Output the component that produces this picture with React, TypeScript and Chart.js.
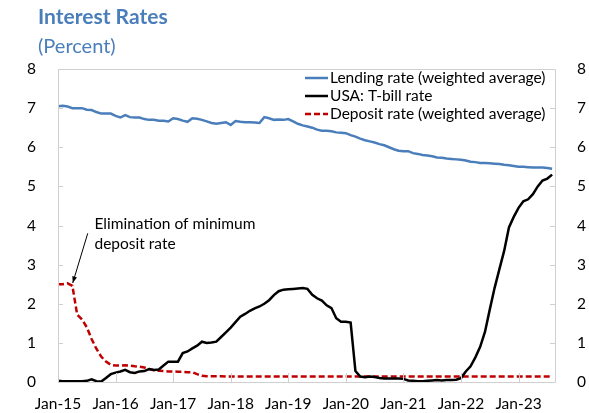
import React, { useEffect, useRef } from "react";
import { Chart, registerables } from "chart.js";

Chart.register(...registerables);

const titleText = "Interest Rates";
const subtitleText = "(Percent)";
const yearLabels = ["Jan-15", "Jan-16", "Jan-17", "Jan-18", "Jan-19", "Jan-20", "Jan-21", "Jan-22", "Jan-23"];
const seriesNames = ["Lending rate (weighted average)", "USA: T-bill rate", "Deposit rate (weighted average)"];
const annotationLines = ["Elimination of minimum", "deposit rate"];

// Monthly, Jan-15 .. Aug-23
const lending = [
  7.05, 7.06, 7.04, 7.0, 7.0, 7.0, 6.96, 6.95, 6.9, 6.86, 6.86, 6.86,
  6.8, 6.76, 6.82, 6.77, 6.76, 6.76, 6.72, 6.7, 6.7, 6.68, 6.68, 6.66,
  6.74, 6.72, 6.68, 6.65, 6.74, 6.73, 6.7, 6.66, 6.62, 6.6, 6.62, 6.64,
  6.57, 6.67, 6.65, 6.64, 6.64, 6.63, 6.62, 6.77, 6.74, 6.7, 6.71, 6.7,
  6.72, 6.66, 6.6, 6.56, 6.53, 6.5, 6.45, 6.42, 6.42, 6.41, 6.38, 6.37,
  6.36, 6.31, 6.27, 6.22, 6.18, 6.15, 6.12, 6.08, 6.05, 6.0, 5.95, 5.91,
  5.9, 5.9, 5.85, 5.83, 5.8, 5.79, 5.77, 5.74, 5.73, 5.71, 5.7, 5.69,
  5.68, 5.66, 5.63, 5.62, 5.6, 5.6, 5.59, 5.58, 5.57, 5.55, 5.54, 5.52,
  5.5, 5.5, 5.49, 5.48, 5.48, 5.48, 5.47, 5.45,
];

const tbill = [
  0.03, 0.02, 0.02, 0.02, 0.02, 0.02, 0.03, 0.07, 0.02, 0.01, 0.1, 0.2,
  0.24, 0.27, 0.31, 0.25, 0.23, 0.27, 0.28, 0.33, 0.31, 0.32, 0.42, 0.52,
  0.52, 0.52, 0.74, 0.78, 0.86, 0.93, 1.03, 1.0, 1.01, 1.03, 1.15, 1.27,
  1.39, 1.53, 1.67, 1.74, 1.82, 1.88, 1.93, 2.0, 2.09, 2.22, 2.32, 2.36,
  2.37, 2.38, 2.39, 2.4, 2.38, 2.23, 2.14, 2.08, 1.96, 1.89, 1.63, 1.54,
  1.54, 1.52, 0.28, 0.14, 0.12, 0.14, 0.13, 0.1, 0.09, 0.09, 0.09, 0.09,
  0.08, 0.04, 0.03, 0.02, 0.02, 0.03, 0.04, 0.05, 0.04, 0.05, 0.05, 0.06,
  0.1, 0.27, 0.4, 0.63, 0.9, 1.28, 1.85, 2.4, 2.88, 3.35, 3.95, 4.22,
  4.45, 4.62, 4.67, 4.8, 5.0, 5.15, 5.2, 5.3,
];

const deposit = [
  2.5, 2.5, 2.52, 2.46, 1.72, 1.6, 1.4, 1.1, 0.85, 0.65, 0.52, 0.44,
  0.42, 0.42, 0.43, 0.42, 0.4, 0.39, 0.37, 0.33, 0.3, 0.29, 0.28, 0.27,
  0.27, 0.26, 0.26, 0.25, 0.25, 0.2, 0.16, 0.15, 0.15, 0.15, 0.15, 0.14,
  0.14, 0.14, 0.14, 0.14, 0.14, 0.14, 0.14, 0.14, 0.14, 0.14, 0.14, 0.14,
  0.14, 0.14, 0.14, 0.14, 0.14, 0.14, 0.14, 0.14, 0.14, 0.14, 0.14, 0.14,
  0.14, 0.14, 0.14, 0.14, 0.14, 0.14, 0.14, 0.14, 0.14, 0.14, 0.14, 0.14,
  0.14, 0.14, 0.14, 0.14, 0.14, 0.14, 0.14, 0.14, 0.14, 0.14, 0.14, 0.14,
  0.14, 0.14, 0.14, 0.14, 0.14, 0.14, 0.14, 0.14, 0.14, 0.14, 0.14, 0.14,
  0.14, 0.14, 0.14, 0.14, 0.14, 0.14, 0.14, 0.14,
];

const FONT = "Lato, 'Open Sans', sans-serif";
const BLUE = "#4A7EBB";
const RED = "#C00000";
const AXIS_GREY = "#D0D0D0";
const TEXT_SIZE = 15.5;

const decorPlugin = {
  id: "decor",
  afterDatasetsDraw(chart: any) {
    const ctx = chart.ctx;
    const { left, right, top, bottom } = chart.chartArea;
    const xs = chart.scales.x;
    const ys = chart.scales.y;
    ctx.save();
    // frame
    ctx.strokeStyle = AXIS_GREY;
    ctx.lineWidth = 1;
    ctx.beginPath();
    ctx.moveTo(left + 0.5, bottom + 0.5);
    ctx.lineTo(left + 0.5, top + 0.5);
    ctx.lineTo(right + 0.5, top + 0.5);
    ctx.lineTo(right + 0.5, bottom + 0.5);
    ctx.lineTo(left + 0.5, bottom + 0.5);
    ctx.stroke();
    // inside ticks
    ctx.beginPath();
    for (let v = 0; v <= 8; v++) {
      const py = Math.round(ys.getPixelForValue(v)) + 0.5;
      ctx.moveTo(left, py);
      ctx.lineTo(left + 5, py);
      ctx.moveTo(right, py);
      ctx.lineTo(right - 5, py);
    }
    yearLabels.forEach((_, k) => {
      const px = Math.round(xs.getPixelForValue(k * 12)) + 0.5;
      ctx.moveTo(px, bottom);
      ctx.lineTo(px, bottom - 9);
    });
    ctx.stroke();

    // legend
    ctx.font = `${TEXT_SIZE}px ${FONT}`;
    ctx.textBaseline = "middle";
    ctx.textAlign = "left";
    const lx = right - 250;
    chart.data.datasets.forEach((ds: any, i: number) => {
      const ly = top + 9 + i * 18;
      ctx.strokeStyle = ds.borderColor;
      ctx.lineWidth = 2.5;
      ctx.setLineDash(ds.borderDash || []);
      ctx.beginPath();
      ctx.moveTo(lx, ly);
      ctx.lineTo(lx + 23, ly);
      ctx.stroke();
      ctx.setLineDash([]);
      ctx.fillStyle = "#000";
      ctx.fillText(ds.label, lx + 25, ly);
    });

    // annotation
    ctx.fillStyle = "#000";
    ctx.font = `${TEXT_SIZE}px ${FONT}`;
    ctx.fillText(annotationLines[0], xs.getPixelForValue(7.6), ys.getPixelForValue(4.04));
    ctx.fillText(annotationLines[1], xs.getPixelForValue(7.6), ys.getPixelForValue(3.53));
    const x0 = xs.getPixelForValue(6.2), y0 = ys.getPixelForValue(3.8);
    const x1 = xs.getPixelForValue(3.07), y1 = ys.getPixelForValue(2.53);
    ctx.strokeStyle = "#000";
    ctx.lineWidth = 1;
    ctx.beginPath();
    ctx.moveTo(x0, y0);
    ctx.lineTo(x1, y1);
    ctx.stroke();
    const ang = Math.atan2(y1 - y0, x1 - x0);
    const ah = 7;
    ctx.beginPath();
    ctx.moveTo(x1, y1);
    ctx.lineTo(x1 - ah * Math.cos(ang - 0.35), y1 - ah * Math.sin(ang - 0.35));
    ctx.lineTo(x1 - ah * Math.cos(ang + 0.35), y1 - ah * Math.sin(ang + 0.35));
    ctx.closePath();
    ctx.fill();
    ctx.restore();
  },
};

export default function App() {
  const ref = useRef<HTMLCanvasElement>(null);
  useEffect(() => {
    if (!ref.current) return;
    const toPts = (arr: number[]) => arr.map((v, i) => ({ x: i, y: v }));
    const yAxis = (position: string, width: number) => ({
      type: "linear",
      position,
      min: 0,
      max: 8,
      ticks: { stepSize: 1, color: "#000", font: { family: FONT, size: TEXT_SIZE }, padding: 14 },
      grid: { display: false },
      border: { display: false },
      afterFit: (s: any) => {
        s.width = width;
      },
    });
    const chart = new Chart(ref.current, {
      type: "line",
      data: {
        datasets: [
          { label: seriesNames[0], data: toPts(lending), borderColor: BLUE, borderWidth: 2.5, pointRadius: 0, tension: 0, yAxisID: "y" },
          { label: seriesNames[1], data: toPts(tbill), borderColor: "#000", borderWidth: 2.5, pointRadius: 0, tension: 0, yAxisID: "y" },
          { label: seriesNames[2], data: toPts(deposit), borderColor: RED, borderWidth: 2.5, borderDash: [6, 3], pointRadius: 0, tension: 0, yAxisID: "y" },
        ],
      },
      options: {
        responsive: false,
        animation: false,
        layout: { padding: { top: 69, left: 0, right: 0, bottom: 0 } },
        plugins: { legend: { display: false }, tooltip: { enabled: false }, title: { display: false } },
        scales: {
          x: {
            type: "linear",
            min: 0,
            max: 103.6,
            afterBuildTicks: (s: any) => {
              s.ticks = yearLabels.map((_, k) => ({ value: k * 12 }));
            },
            ticks: {
              autoSkip: false,
              maxRotation: 0,
              color: "#000",
              font: { family: FONT, size: TEXT_SIZE },
              padding: 5,
              callback: (v: any) => yearLabels[Math.round(Number(v) / 12)],
            },
            grid: { display: false },
            border: { display: false },
            afterFit: (s: any) => {
              s.height = 31;
            },
          },
          y: yAxis("left", 58) as any,
          y2: yAxis("right", 34) as any,
        },
      } as any,
      plugins: [decorPlugin],
    });
    return () => chart.destroy();
  }, []);
  return (
    <div style={{ position: "fixed", left: 0, top: 0, width: 589, height: 413, background: "#fff" }}>
      <div style={{ position: "absolute", left: 38, top: 3, fontFamily: FONT, fontWeight: 700, fontSize: 21, color: BLUE, whiteSpace: "nowrap" }}>
        {titleText}
      </div>
      <div style={{ position: "absolute", left: 38, top: 33, fontFamily: FONT, fontSize: 20, color: BLUE, whiteSpace: "nowrap" }}>
        {subtitleText}
      </div>
      <canvas ref={ref} width={589} height={413} style={{ display: "block" }} />
    </div>
  );
}
